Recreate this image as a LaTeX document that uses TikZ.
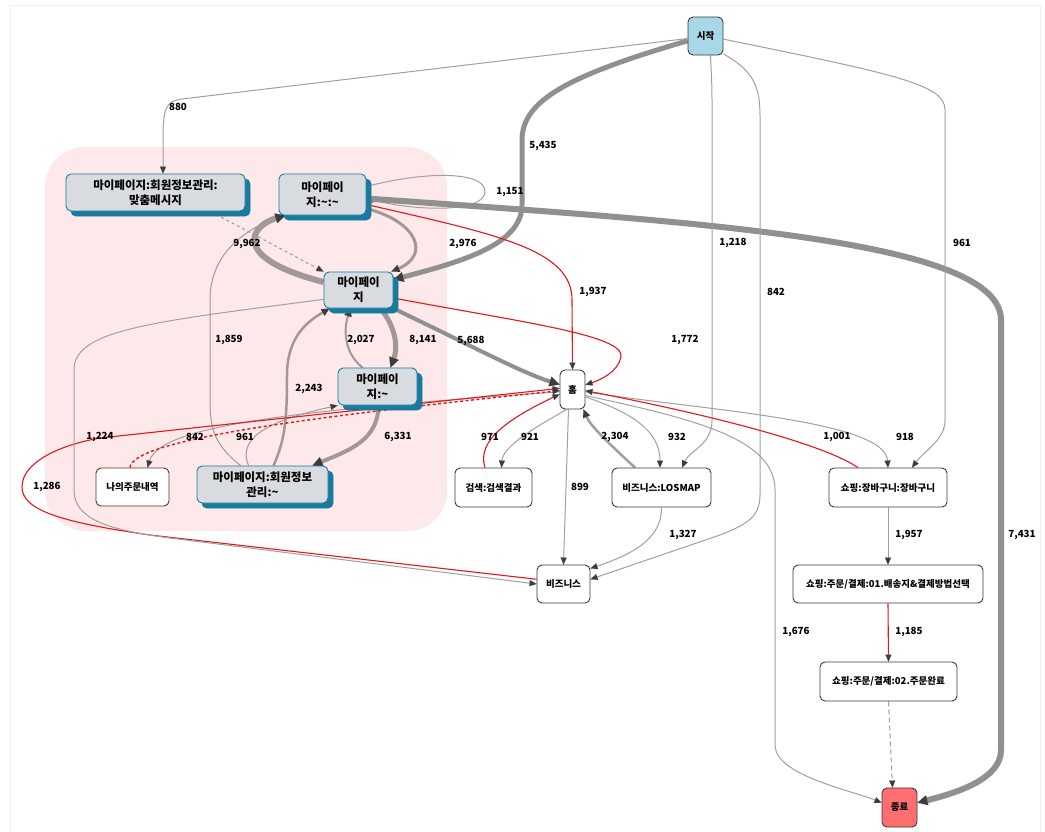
\documentclass[tikz,border=0pt]{standalone}
\usepackage{fontspec}
\setmainfont{Noto Sans CJK KR}
\usetikzlibrary{arrows.meta,shadows,calc}
\definecolor{startc}{HTML}{A8D8E8}
\definecolor{endc}{HTML}{FF6F6F}
\definecolor{nborder}{HTML}{3A3A3A}
\definecolor{mpfill}{HTML}{D8DCE0}
\definecolor{mpteal}{HTML}{1A7A9E}
\definecolor{pinkbg}{HTML}{FDE9E9}
\definecolor{egc}{HTML}{A0A0A0}
\definecolor{ecc}{HTML}{A39898}
\definecolor{erc}{HTML}{E8161B}
\definecolor{arrowc}{HTML}{3C3C3C}
\pgfdeclarelayer{bg}\pgfdeclarelayer{edgelayer}\pgfsetlayers{bg,edgelayer,main}
\begin{document}
\begin{tikzpicture}[x=1pt,y=-1pt,
  >={Triangle[length=7pt,width=6pt,color=arrowc,line width=0.01pt]},
  tipmed/.style={-{Triangle[length=8pt,width=7.5pt,color=arrowc,line width=0.01pt]}},
  tipbig/.style={-{Triangle[length=10pt,width=10pt,color=arrowc,line width=0.01pt]}},
  eg/.style={draw=egc,line width=1pt},
  ec/.style={draw=ecc,line width=1pt},
  er/.style={draw=erc,line width=1.1pt},
  plain/.style={rectangle,rounded corners=5pt,draw=nborder,line width=0.9pt,fill=white,
    inner sep=2pt,align=center,font=\fontsize{9.5}{11}\selectfont\bfseries},
  mpnode/.style={rectangle,rounded corners=5pt,draw=mpteal,line width=0.9pt,fill=mpfill,
    inner sep=2pt,align=center,font=\fontsize{11.5}{15}\selectfont\bfseries,
    copy shadow={shadow xshift=5pt,shadow yshift=-5pt,draw=mpteal,fill=mpteal}},
  lbl/.style={inner sep=0pt,font=\fontsize{9.8}{12}\selectfont\bfseries}
]
\useasboundingbox (0,0) rectangle (1045,831);
\begin{pgfonlayer}{bg}
\fill[white] (0,0) rectangle (1045,831);
\draw[gray!12,line width=1pt] (10,5) rectangle (1040,840);
\fill[pinkbg,rounded corners=40pt] (45,147) rectangle (447,531);
\end{pgfonlayer}

% nodes
\node[plain,fill=startc,minimum width=35pt,minimum height=38pt] (start) at (705.5,36) {시작};
\node[plain,fill=endc,minimum width=35pt,minimum height=39pt] (end) at (899.5,807.5) {종료};
\node[mpnode,minimum width=179pt,minimum height=37pt] (msg) at (155.5,192.5) {마이페이지:회원정보관리:\\맞춤메시지};
\node[mpnode,minimum width=87pt,minimum height=41pt] (mpss) at (322.5,194.5) {마이페이\\지:\textasciitilde:\textasciitilde};
\node[mpnode,minimum width=69pt,minimum height=36pt] (mp) at (358.5,290) {마이페이\\지};
\node[mpnode,minimum width=79pt,minimum height=37pt] (mpt) at (377.5,386.5) {마이페이\\지:\textasciitilde};
\node[mpnode,minimum width=131pt,minimum height=37pt] (mpinfo) at (262.5,484.5) {마이페이지:회원정보\\관리:\textasciitilde};
\node[plain,draw=nborder!80!red,minimum width=73pt,minimum height=38pt] (order) at (132.5,487) {나의주문내역};
\node[plain,minimum width=25pt,minimum height=39pt,inner sep=1pt] (home) at (572.5,389.5) {홈};
\node[plain,minimum width=77pt,minimum height=39pt] (search) at (493.5,487.5) {검색:검색결과};
\node[plain,minimum width=99pt,minimum height=39pt] (losmap) at (661.5,487.5) {비즈니스:LOSMAP};
\node[plain,minimum width=53pt,minimum height=38pt] (biz) at (563.5,584) {비즈니스};
\node[plain,minimum width=118pt,minimum height=39pt] (cart) at (888,487.5) {쇼핑:장바구니:장바구니};
\node[plain,minimum width=190pt,minimum height=38pt] (ord1) at (888,584) {쇼핑:주문/결제:01.배송지\&결제방법선택};
\node[plain,minimum width=137pt,minimum height=39pt] (ord2) at (888.5,681.5) {쇼핑:주문/결제:02.주문완료};

\begin{pgfonlayer}{edgelayer}
% 880
\draw[eg,->] (start.188) -- (182,99) .. controls (165,101) and (163,110) .. (163,140) -- ([xshift=7.5pt]msg.north);
% 5435
\draw[eg,draw=egc!90!black,line width=5pt,tipbig] (start.195) .. controls (570,75) and (522,100) .. (522,140) -- (522,205) .. controls (522,245) and (460,262) .. ([yshift=-8pt]mp.north east);
% 1151 loop
\draw[eg,->] ([yshift=8pt]mpss.east) .. controls (430,170) and (486,172) .. (485,192) .. controls (484,212) and (420,212) .. ([yshift=-4pt]mpss.east);
% 7431
\draw[eg,draw=egc!90!black,line width=6pt,tipbig] ([yshift=-4pt]mpss.east) .. controls (700,222) and (1001,240) .. (1001,320) -- (1001,750) .. controls (1001,778) and (960,792) .. (end.15);
% 2976
\draw[ec,line width=3pt,tipmed] ([yshift=-14pt]mpss.east) .. controls (418,222) and (430,255) .. ([xshift=-2pt]mp.north east);
% 9962
\draw[ec,line width=6pt,tipbig] ([yshift=8pt]mp.west) .. controls (230,258) and (250,226) .. ([xshift=-37pt]mpss.south);
% msg -> mp dashed
\draw[ec,dashed,->] ([xshift=55pt]msg.south) -- (mp.north west);
% 1937
\draw[er,->] ([yshift=-10pt]mpss.east) .. controls (500,235) and (572,250) .. (572,300) -- (home.north);
% 1772
\draw[er,->] ([yshift=-8pt]mp.east) .. controls (520,322) and (625,335) .. (621,357) .. controls (618,372) and (600,380) .. (home.20);
% 5688
\draw[eg,draw=egc!90!black,line width=4pt,tipbig] (mp.south east) .. controls (470,345) and (520,372) .. ([yshift=5pt]home.west);
% 8141
\draw[ec,line width=5pt,tipbig] ([xshift=22pt]mp.south) .. controls (398,330) and (397,350) .. ([xshift=13pt]mpt.north);
% 2027
\draw[ec,line width=2pt,tipmed] ([xshift=-15pt]mpt.north) .. controls (343,352) and (344,328) .. ([xshift=-8pt]mp.south);
% 2243
\draw[ec,line width=2.5pt,tipmed] ([xshift=11pt]mpinfo.north) .. controls (285,440) and (287,420) .. (287,375) .. controls (287,335) and (310,320) .. ([xshift=6pt]mp.south west);
% 1859
\draw[ec,->] ([xshift=-22pt]mpinfo.north) .. controls (215,445) and (210,430) .. (210,400) -- (210,300) .. controls (210,250) and (250,228) .. ([xshift=-40pt]mpss.south);
% 6331
\draw[ec,line width=4pt,tipbig] ([xshift=1pt]mpt.south) .. controls (378,440) and (350,450) .. ([xshift=50pt]mpinfo.north);
% 961 cluster
\draw[ec,->] ([xshift=-14pt]mpinfo.north) .. controls (238,440) and (262,422) .. (mpt.south west);
% home -> order
\draw[eg,->] (home.190) .. controls (300,410) and (160,425) .. ([xshift=15pt]order.north);
% order -> home dashed red
\draw[er,dash pattern=on 3pt off 2.5pt,line width=1.4pt,->] ([xshift=-2.5pt]order.north) .. controls (133,440) and (300,418) .. (home.185);
% 1286
\draw[er,->] (biz.170) -- (150,535) .. controls (60,522) and (22,510) .. (22,487) .. controls (22,462) and (60,445) .. (100,438) -- (home.175);
% 1224
\draw[eg,->] (mp.195) .. controls (150,322) and (74,330) .. (74,370) -- (74,490) .. controls (74,520) and (110,530) .. (170,538) -- (biz.west);
% 921
\draw[eg,->] ([xshift=-6pt]home.south) .. controls (540,425) and (503,445) .. ([xshift=8pt]search.north);
% 971
\draw[er,->] ([xshift=-8.5pt]search.north) .. controls (476,440) and (510,418) .. (home.200);
% 899
\draw[eg,->] ([xshift=-4pt]home.south) -- (biz.north);
% 2304
\draw[eg,line width=2.5pt,tipmed] ([xshift=-26.5pt]losmap.north) .. controls (605,440) and (590,425) .. ([xshift=-2pt]home.south east);
% 932
\draw[eg,->] (home.-30) .. controls (630,412) and (660,430) .. ([xshift=-1.5pt]losmap.north);
% 1218
\draw[eg,->] ([xshift=5pt]start.south) .. controls (711,70) and (712,80) .. (712,100) -- (712,420) .. controls (712,445) and (690,450) .. ([xshift=20.5pt]losmap.north);
% 1327
\draw[eg,->] (losmap.south) .. controls (662,540) and (630,555) .. (biz.30);
% 842 start -> biz
\draw[eg,->] (start.-45) .. controls (752,70) and (760,85) .. (760,115) -- (760,495) .. controls (760,518) and (745,525) .. (720,535) -- (biz.10);
% 961 start -> cart
\draw[eg,->] (start.-10) .. controls (900,75) and (945,85) .. (945,110) -- (945,420) .. controls (945,440) and (925,450) .. ([xshift=24pt]cart.north);
% 918
\draw[eg,->] (home.-10) .. controls (700,410) and (885,420) .. (cart.north);
% 1001
\draw[er,->] ([xshift=-30pt]cart.north) .. controls (820,442) and (700,413) .. (home.-5);
% 1676
\draw[eg,->] (home.-25) .. controls (700,420) and (775,440) .. (775,490) -- (775,745) .. controls (775,775) and (850,790) .. (end.165);
% 1957
\draw[eg,->] (cart.south) -- (ord1.north);
% 1185
\draw[er,->] (ord1.south) -- (ord2.north);
% ord2 -> end
\draw[eg,dash pattern=on 5pt off 3pt,->] (ord2.south) -- ([xshift=-7pt]end.north);
\end{pgfonlayer}

% labels
\node[lbl] (l1) at (178,107) {880};
\node[lbl] (l2) at (543,146) {5,435};
\node[lbl] (l3) at (510,192) {1,151};
\node[lbl] (l4) at (463,244) {2,976};
\node[lbl] (l5) at (247,244) {9,962};
\node[lbl] (l6) at (593,292) {1,937};
\node[lbl] (l7) at (733,243) {1,218};
\node[lbl] (l8) at (776,292) {842};
\node[lbl] (l9) at (962,243) {961};
\node[lbl] (l10) at (685,340) {1,772};
\node[lbl] (l11) at (229,340) {1,859};
\node[lbl] (l12) at (361,340) {2,027};
\node[lbl] (l13) at (423,340) {8,141};
\node[lbl] (l14) at (471,341) {5,688};
\node[lbl] (l15) at (309,389) {2,243};
\node[lbl] (l16) at (100,437) {1,224};
\node[lbl] (l17) at (195,437) {842};
\node[lbl] (l18) at (245,437) {961};
\node[lbl] (l19) at (398,437) {6,331};
\node[lbl] (l20) at (490,437) {971};
\node[lbl] (l21) at (530,437) {921};
\node[lbl] (l22) at (615,437) {2,304};
\node[lbl] (l23) at (677,437) {932};
\node[lbl] (l24) at (837,437) {1,001};
\node[lbl] (l25) at (905,437) {918};
\node[lbl] (l26) at (47,487) {1,286};
\node[lbl] (l27) at (580,487) {899};
\node[lbl] (l28) at (683,535) {1,327};
\node[lbl] (l29) at (909,535) {1,957};
\node[lbl] (l30) at (1022,535) {7,431};
\node[lbl] (l31) at (796,632) {1,676};
\node[lbl] (l32) at (909,632) {1,185};
\end{tikzpicture}
\end{document}
